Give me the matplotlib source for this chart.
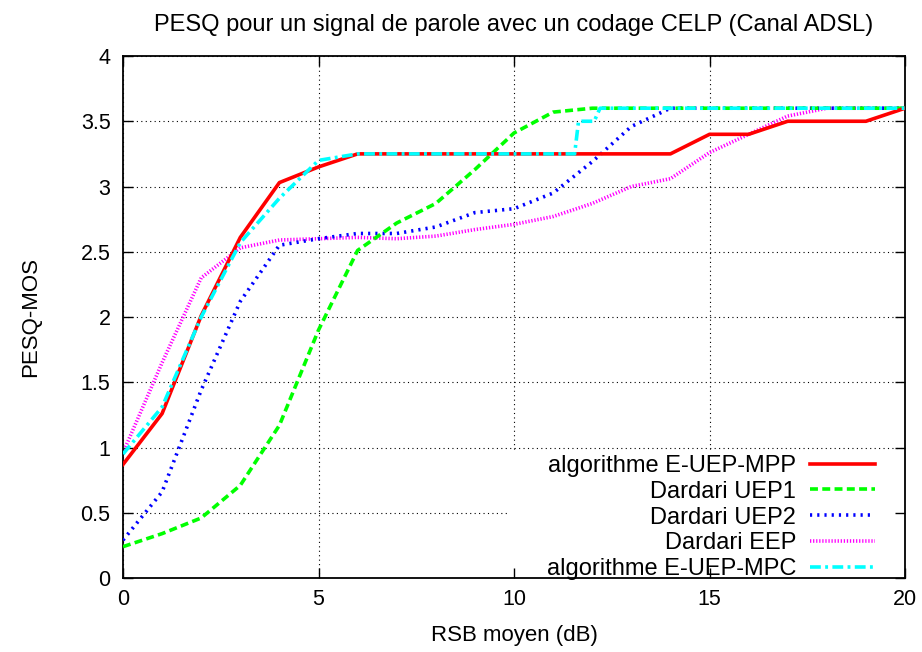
import matplotlib
matplotlib.use("Agg")
import matplotlib.pyplot as plt
from matplotlib.path import Path
from matplotlib.patches import PathPatch

plt.rcParams['font.family'] = ['Liberation Sans', 'DejaVu Sans']

title = "PESQ pour un signal de parole avec un codage CELP (Canal ADSL)"
xlabel = "RSB moyen (dB)"
ylabel = "PESQ-MOS"

snr = list(range(0, 21))

mpp_y = [0.87, 1.26, 2.01, 2.61, 3.03, 3.15, 3.25, 3.25, 3.25, 3.25, 3.25,
         3.25, 3.25, 3.25, 3.25, 3.40, 3.40, 3.50, 3.50, 3.50, 3.60]
uep1_y = [0.24, 0.34, 0.46, 0.71, 1.17, 1.90, 2.51, 2.72, 2.87, 3.13, 3.41,
          3.57, 3.60, 3.60, 3.60, 3.60, 3.60, 3.60, 3.60, 3.60, 3.60]
uep2_y = [0.29, 0.66, 1.44, 2.12, 2.55, 2.60, 2.64, 2.64, 2.69, 2.80, 2.83,
          2.95, 3.19, 3.46, 3.60, 3.60, 3.60, 3.60, 3.60, 3.60, 3.60]
eep_y = [0.96, 1.65, 2.30, 2.53, 2.59, 2.60, 2.61, 2.60, 2.62, 2.67, 2.71,
         2.77, 2.87, 3.00, 3.06, 3.26, 3.40, 3.54, 3.60, 3.60, 3.60]
mpc_x = [0, 1, 2, 3, 4, 5, 6, 7, 8, 9, 10, 11, 11.55, 11.65, 12.05, 12.2,
         13, 14, 15, 16, 17, 18, 19, 20]
mpc_y = [0.95, 1.31, 2.00, 2.57, 2.91, 3.20, 3.25, 3.25, 3.25, 3.25, 3.25,
         3.25, 3.25, 3.50, 3.50, 3.60, 3.60, 3.60, 3.60, 3.60, 3.60, 3.60, 3.60, 3.60]

labels = ["algorithme E-UEP-MPP", "Dardari UEP1", "Dardari UEP2",
          "Dardari EEP", "algorithme E-UEP-MPC"]

xticks = [0, 5, 10, 15, 20]
yticks = [0, 0.5, 1, 1.5, 2, 2.5, 3, 3.5, 4]
yticklabels = ["0", "0.5", "1", "1.5", "2", "2.5", "3", "3.5", "4"]

fig = plt.figure(figsize=(9.22, 6.52), dpi=100)
ax = fig.add_axes([0.1334, 0.1135, 0.8482, 0.8006])

ax.plot(snr, mpp_y, color='#ff0000', lw=2.6, ls='-', label=labels[0], zorder=5)
ax.plot(snr, uep1_y, color='#00ff00', lw=2.6, ls=(0, (2.2, 1.2)), label=labels[1], zorder=4)
ax.plot(snr, uep2_y, color='#0000ff', lw=2.6, ls=(0, (0.6, 1.4)), label=labels[2], zorder=3)
ax.plot(snr, eep_y, color='#ff00ff', lw=2.6, ls=(0, (0.35, 0.5)), label=labels[3], zorder=2)
ax.plot(mpc_x, mpc_y, color='#00ffff', lw=2.6, ls=(0, (3, 1.2, 0.8, 1.2)), label=labels[4], zorder=6)

ax.set_xlim(0, 20)
ax.set_ylim(0, 4)
ax.set_xticks(xticks)
ax.set_yticks(yticks)
ax.set_yticklabels(yticklabels)
ax.grid(True, color='black', ls=(0, (1, 3)), lw=0.8)
ax.tick_params(direction='in', top=True, right=True, length=7, width=1,
               labelsize=15.5)
ax.tick_params(axis='y', pad=9)
ax.tick_params(axis='x', pad=8)
for s in ax.spines.values():
    s.set_linewidth(1.3)

# keep grid out of the key area (blank key background)
x0, y1 = 0.491, 0.245
clip_path = Path([(0, 0), (x0, 0), (x0, y1), (1, y1), (1, 1), (0, 1), (0, 0)],
                 [Path.MOVETO] + [Path.LINETO] * 5 + [Path.CLOSEPOLY])
clip_patch = PathPatch(clip_path, transform=ax.transAxes, facecolor='none', edgecolor='none')
for gl in ax.xaxis.get_gridlines() + ax.yaxis.get_gridlines():
    gl.set_clip_path(clip_patch)

ax.set_title(title, fontsize=17, pad=18)
ax.set_xlabel(xlabel, fontsize=16, labelpad=11)
ax.set_ylabel(ylabel, fontsize=16, labelpad=28)

leg = ax.legend(loc='lower right', bbox_to_anchor=(0.9616, -0.004),
                markerfirst=False, fontsize=17, frameon=False,
                handlelength=2.75, handletextpad=0.6, labelspacing=0.16,
                borderpad=0.0, borderaxespad=0.0)
for t in leg.get_texts():
    t.set_ha('right')
leg._legend_box.align = "right"

fig.savefig("out.png", dpi=100)
